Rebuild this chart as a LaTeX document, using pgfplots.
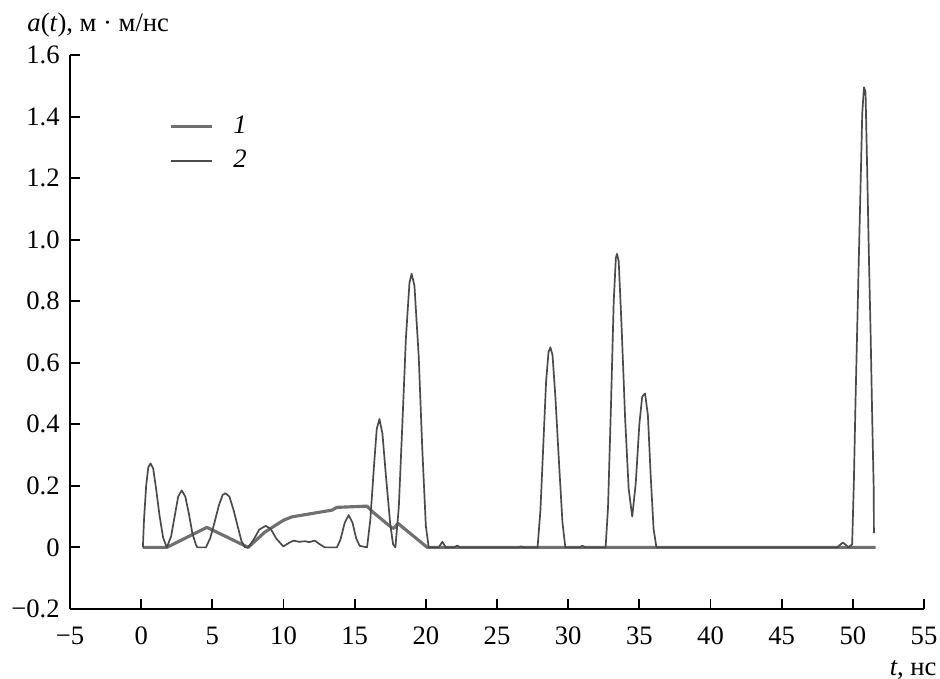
\documentclass[border=0pt]{standalone}
\usepackage{fontspec}
\setmainfont{Liberation Serif}
\usepackage{pgfplots}
\usepackage{pgfplotstable}
\pgfplotsset{compat=1.18}
\definecolor{thickc}{HTML}{707070}
\definecolor{thinc}{HTML}{4A4A4A}
\pgfplotstableread{
t a
0.12 0
1.80 0
4.62 0.065
7.52 0
8.7 0.05
9.99 0.088
10.58 0.099
13.4 0.121
13.75 0.13
15.87 0.134
16.22 0.117
17.6 0.064
17.75 0.062
18.05 0.078
18.3 0.068
20.1 0
51.6 0
}\curveone
\pgfplotstableread{
t a
0.12 0
0.2 0.09
0.35 0.2
0.5 0.26
0.66 0.273
0.85 0.255
1.05 0.19
1.3 0.1
1.55 0.03
1.80 0
2.1 0.035
2.35 0.1
2.6 0.165
2.85 0.185
3.1 0.165
3.35 0.11
3.6 0.045
3.85 0.008
3.95 0
4.55 0
4.85 0.03
5.15 0.08
5.45 0.135
5.72 0.17
5.92 0.176
6.2 0.165
6.5 0.12
6.8 0.065
7.05 0.02
7.29 0
7.52 0
7.9 0.025
8.3 0.058
8.75 0.07
9.1 0.06
9.5 0.028
9.99 0.003
10.4 0.015
10.7 0.022
11.1 0.018
11.5 0.02
11.8 0.017
12.2 0.022
12.55 0.01
12.9 0
13.75 0
14.0 0.025
14.3 0.08
14.58 0.105
14.85 0.08
15.1 0.03
15.35 0.005
15.87 0
16.1 0.09
16.35 0.26
16.55 0.385
16.74 0.417
16.95 0.37
17.2 0.23
17.5 0.075
17.7 0.01
17.86 0
18.1 0.13
18.35 0.4
18.6 0.68
18.85 0.86
19.0 0.889
19.2 0.85
19.5 0.62
19.75 0.32
20.0 0.07
20.2 0
20.9 0
21.16 0.018
21.4 0
22.0 0
22.2 0.006
22.4 0
26.5 0
26.7 0.003
26.9 0
27.85 0
28.05 0.12
28.25 0.33
28.45 0.54
28.62 0.635
28.75 0.65
28.9 0.625
29.1 0.49
29.35 0.28
29.6 0.08
29.8 0
30.8 0
31.0 0.005
31.2 0
32.63 0
32.8 0.13
33.0 0.45
33.2 0.8
33.35 0.94
33.43 0.954
33.55 0.93
33.75 0.72
34.0 0.42
34.25 0.19
34.5 0.10
34.75 0.21
35.0 0.4
35.2 0.49
35.4 0.50
35.6 0.43
35.8 0.23
36.0 0.06
36.2 0
48.9 0
49.3 0.016
49.7 0
49.95 0.01
50.07 0.21
50.19 0.48
50.30 0.70
50.42 0.94
50.54 1.17
50.66 1.41
50.78 1.495
50.89 1.48
51.01 1.22
51.13 0.94
51.25 0.69
51.36 0.42
51.47 0.18
51.48 0.046
}\curvetwo
\begin{document}
\fontsize{11}{13.2}\selectfont
\begin{tikzpicture}[font=\fontsize{11}{13.2}\selectfont]
\begin{axis}[
  scale only axis,
  width=352.9pt, height=228.9pt,
  xmin=-5, xmax=55, ymin=-0.2, ymax=1.6,
  axis lines=left,
  axis line style={-, line width=0.8pt, black},
  xtick={-5,0,5,10,15,20,25,30,35,40,45,50,55},
  xticklabels={−5,0,5,10,15,20,25,30,35,40,45,50,55},
  ytick={-0.2,0,0.2,0.4,0.6,0.8,1.0,1.2,1.4,1.6},
  yticklabels={−0.2,0,0.2,0.4,0.6,0.8,1.0,1.2,1.4,1.6},
  tick align=inside,
  major tick length=4pt,
  tick style={line width=0.8pt, black},
  xticklabel style={yshift=-3.6pt},
  yticklabel style={xshift=-0.4pt},
  clip=false,
  xlabel={\textit{t}, нс},
  xlabel style={at={(axis description cs:1.0152,-0.1101)}, anchor=east, inner sep=0pt},
  ylabel={\textit{a}(\textit{t}), м · м/нс},
  ylabel style={rotate=-90, at={(axis description cs:-0.0504,1.054)}, anchor=west, inner sep=0pt},
  legend style={draw=none, fill=none, at={(axis description cs:0.1160,0.8950)}, anchor=north west,
    inner sep=0pt, row sep=3.2pt, nodes={inner sep=1pt}},
  legend cell align=left,
]
\addplot[draw=thickc, line width=1.3pt, line join=round] table[x=t,y=a] {\curveone};
\addlegendentry{\hspace{7pt}\textit{1}}
\addplot[draw=thinc, line width=0.7pt, line join=round] table[x=t,y=a] {\curvetwo};
\addlegendentry{\hspace{7pt}\textit{2}}
\coordinate (bbsw) at (axis cs:-9.918,-0.4274);
\coordinate (bbne) at (axis cs:56.124,1.7787);
\end{axis}
\pgfresetboundingbox
\useasboundingbox (bbsw) rectangle (bbne);
\end{tikzpicture}
\end{document}
